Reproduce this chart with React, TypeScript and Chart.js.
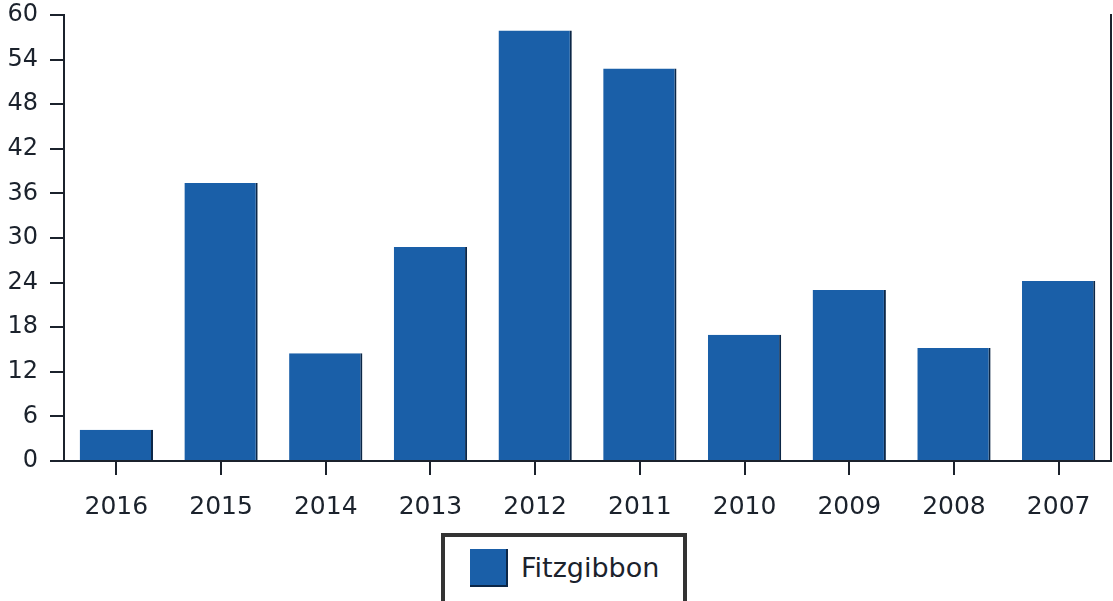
import React, { useEffect, useRef } from "react";
import { Chart, registerables } from "chart.js";

Chart.register(...registerables);

const categories = ["2016", "2015", "2014", "2013", "2012", "2011", "2010", "2009", "2008", "2007"];
const seriesName = "Fitzgibbon";
const seriesValues = [4.2, 37.4, 14.5, 28.8, 57.9, 52.8, 17.0, 23.0, 15.2, 24.2];
const yTicks = [0, 6, 12, 18, 24, 30, 36, 42, 48, 54, 60];

const BAR = "#1a5fa8";
const EDGE = "#0c2747";
const INK = "#1b222c";

export default function App() {
  const ref = useRef<HTMLCanvasElement | null>(null);

  useEffect(() => {
    document.body.style.margin = "0";
    const ctx = ref.current!.getContext("2d")!;
    const chart = new Chart(ctx, {
      type: "bar",
      data: {
        labels: categories,
        datasets: [
          {
            label: seriesName,
            data: seriesValues,
            backgroundColor: BAR,
            borderColor: EDGE,
            borderWidth: { top: 0, left: 0, right: 2, bottom: 0 },
            borderSkipped: false,
            barPercentage: 0.7,
            categoryPercentage: 1,
          },
        ],
      },
      options: {
        animation: false,
        responsive: false,
        maintainAspectRatio: false,
        layout: { padding: { left: 7, top: 15, right: 2, bottom: 62 } },
        plugins: { legend: { display: false }, tooltip: { enabled: false } },
        scales: {
          x: {
            grid: {
              offset: false,
              drawOnChartArea: false,
              drawTicks: true,
              tickLength: 14,
              color: INK,
              lineWidth: 2,
            },
            border: { display: true, color: INK, width: 2 },
            ticks: {
              color: INK,
              font: { family: "DejaVu Sans", size: 25 },
              padding: 17,
              maxRotation: 0,
            },
            afterFit: (axis: any) => {
              axis.paddingLeft = 0;
              axis.paddingRight = 0;
            },
          },
          y: {
            min: 0,
            max: 60,
            afterBuildTicks: (axis: any) => {
              axis.ticks = yTicks.map((v) => ({ value: v }));
            },
            afterFit: (axis: any) => {
              axis.width = 57;
              axis.paddingTop = 0;
              axis.paddingBottom = 0;
            },
            grid: {
              drawOnChartArea: false,
              drawTicks: true,
              tickLength: 14,
              color: INK,
              lineWidth: 2,
            },
            border: { display: true, color: INK, width: 2 },
            ticks: {
              color: INK,
              font: { family: "DejaVu Sans", size: 24 },
              padding: 12,
            },
          },
          y2: {
            position: "right",
            min: 0,
            max: 60,
            grid: { display: false, drawTicks: false },
            border: { display: true, color: INK, width: 2 },
            ticks: { display: false },
            afterFit: (axis: any) => {
              axis.width = 0;
              axis.paddingTop = 0;
              axis.paddingBottom = 0;
            },
          },
        },
      },
    });
    return () => chart.destroy();
  }, []);

  return (
    <div style={{ position: "relative", width: 1113, height: 601, background: "#fff", overflow: "hidden" }}>
      <canvas ref={ref} width={1113} height={601} style={{ display: "block" }} />
      <div
        style={{
          position: "absolute",
          left: 441,
          top: 533,
          width: 238,
          height: 70,
          border: "4px solid #333",
          boxSizing: "content-box",
          display: "flex",
          alignItems: "flex-start",
          background: "#fff",
        }}
      >
        <div
          style={{
            marginLeft: 25,
            marginTop: 12,
            width: 36,
            height: 36,
            background: BAR,
            borderRight: `2px solid ${EDGE}`,
            borderBottom: `2px solid ${EDGE}`,
          }}
        />
        <div
          style={{
            marginLeft: 13,
            marginTop: 13,
            fontFamily: "DejaVu Sans",
            fontSize: 27,
            color: INK,
            lineHeight: "36px",
          }}
        >
          {seriesName}
        </div>
      </div>
    </div>
  );
}
